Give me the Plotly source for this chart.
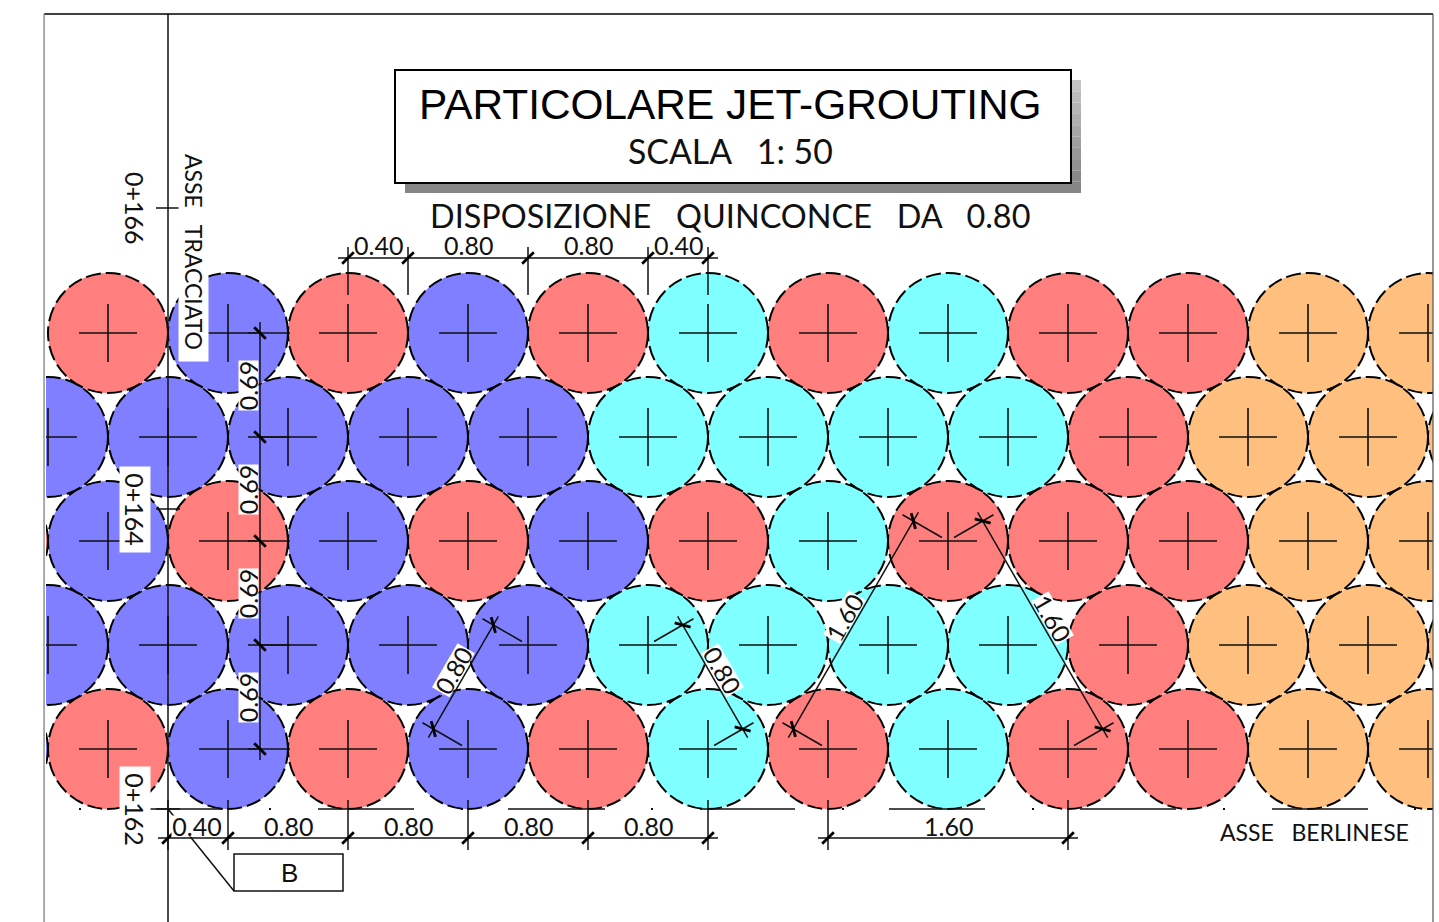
import numpy as np
import plotly.graph_objects as go

# ---- drawing data, metres from the ASSE TRACCIATO / ASSE BERLINESE corner ----
RADIUS = 0.40
ROW_Y = [0.0, 0.6933, 1.3867, 2.08, 2.7733]
ROW_X0 = [-1.2, -0.8, -1.2, -0.8, -0.4]
R, B, C, O = "#FF7F7F", "#7F7FFF", "#7FFFFF", "#FFBF7F"
ROW_COLOURS = [
    [B, R, B, R, B, R, C, R, C, R, R, O, O],
    [B, B, B, B, B, C, C, C, C, R, O, O, O],
    [R, B, R, B, R, B, R, C, R, R, R, O, O],
    [B, B, B, B, B, C, C, C, C, R, O, O, O],
    [R, B, R, B, R, C, R, C, R, R, O, O],
]

AXIS_X = 0.0
TOP_Y = 4.9
BOTTOM_Y = -1.1533
STATION_TICKS = [3.6067, 1.6, -0.4]
BASE_Y = -0.4
BASE_DASHES = [(-0.2733, 0.3667), (1.0, 1.64), (2.2667, 2.9133), (3.5467, 4.18),
               (4.8067, 5.4467), (6.08, 6.72), (7.36, 8.0)]
BASE_DOTS = [-0.5867, 0.68, 1.96, 3.2267, 4.5, 5.7667, 7.04, 8.3133]

BOTTOM_DIM_Y = -0.5933
BOTTOM_DIM_X = [0.0, 0.4, 1.2, 2.0, 2.8, 3.6]
SPAN_DIM_X = [4.4, 6.0]
TOP_DIM_Y = 3.2733
TOP_DIM_X = [1.2, 1.6, 2.4, 3.2, 3.6]
VERT_DIM_X = 0.6133
ALIGNED = [((2.0, 0.0), (2.4, 0.6933)), ((3.2, 0.6933), (3.6, 0.0)),
           ((4.4, 0.0), (5.2, 1.3867)), ((5.2, 1.3867), (6.0, 0.0))]

GAP = "\u00a0\u00a0\u00a0"
LABELS = [
    ("DISPOSIZIONE" + GAP + "QUINCONCE" + GAP + "DA" + GAP + "0.80", 3.7467, 3.56, 0, 32.4),
    ("ASSE" + GAP + "BERLINESE", 7.64, -0.55, 0, 23),
    ("0.40", 1.4, 3.36, 0, 25), ("0.80", 2.0, 3.36, 0, 25),
    ("0.80", 2.8, 3.36, 0, 25), ("0.40", 3.4, 3.36, 0, 25),
    ("0.80", 0.8, -0.5133, 0, 25), ("0.80", 1.6, -0.5133, 0, 25),
    ("0.80", 2.4, -0.5133, 0, 25), ("0.80", 3.2, -0.5133, 0, 25),
    ("1.60", 5.2, -0.5133, 0, 25), ("0+166", -0.22, 3.6067, 90, 25),
]
BOXED_LABELS = [
    ("0.40", 0.1933, -0.5133, 0, 25, 50, 20),
    ("0+164", -0.22, 1.6, 90, 25, 85, 30),
    ("0+162", -0.22, -0.4, 90, 25, 85, 30),
    ("ASSE" + GAP + "TRACCIATO", 0.1733, 3.3133, 90, 23, 218, 29),
    ("0.69", 0.5333, 2.4267, -90, 25, 49, 19),
    ("0.69", 0.5333, 1.7333, -90, 25, 49, 19),
    ("0.69", 0.5333, 1.04, -90, 25, 49, 19),
    ("0.69", 0.5333, 0.3467, -90, 25, 49, 19),
    ("0.80", 1.9, 0.5267, -60, 25, 50, 19),
    ("0.80", 3.7, 0.5267, 60, 25, 50, 19),
    ("1.60", 4.5067, 0.88, -60, 25, 50, 19),
    ("1.60", 5.9, 0.8733, 60, 25, 50, 19),
]
X_RANGE = [-0.8133, 8.4333]
Y_RANGE = [BOTTOM_Y, TOP_Y]
TITLE_BOX = (1.5133, 3.7733, 6.02, 4.5267)
SHADOW_SHIFT = 0.0667
B_BOX = (0.44, -0.9467, 1.1667, -0.70)
B_LEADER = [(0.0, -0.4), (0.44, -0.9467)]

LINE = "#111111"
THIN = "Lato"

# ---- line work built from the values above ----
thin_x, thin_y, thick_x, thick_y = [], [], [], []

def seg(p, q):
    thin_x.extend([p[0], q[0], None])
    thin_y.extend([p[1], q[1], None])

def tick(p, d, size=0.055):
    a = np.pi / 4
    v = (d[0] * np.cos(a) - d[1] * np.sin(a), d[0] * np.sin(a) + d[1] * np.cos(a))
    thick_x.extend([p[0] - v[0] * size, p[0] + v[0] * size, None])
    thick_y.extend([p[1] - v[1] * size, p[1] + v[1] * size, None])

seg((AXIS_X, BOTTOM_Y), (AXIS_X, TOP_Y))
for t in STATION_TICKS:
    seg((-0.08, t), (0.08, t))
for a, b in BASE_DASHES:
    seg((a, BASE_Y), (b, BASE_Y))

def horizontal_chain(xs, y, y0, y1):
    seg((xs[0] - 0.0667, y), (xs[-1] + 0.0667, y))
    for x in xs:
        seg((x, y0), (x, y1))
        tick((x, y), (1, 0))

horizontal_chain(BOTTOM_DIM_X, BOTTOM_DIM_Y, -0.34, -0.6733)
horizontal_chain(SPAN_DIM_X, BOTTOM_DIM_Y, -0.34, -0.6733)
horizontal_chain(TOP_DIM_X, TOP_DIM_Y, 3.0267, 3.3467)

seg((VERT_DIM_X, -0.0733), (VERT_DIM_X, 2.8467))
for y in ROW_Y:
    seg((VERT_DIM_X - 0.08, y), (VERT_DIM_X + 0.2, y))
    tick((VERT_DIM_X, y), (0, 1))

for p1, p2 in ALIGNED:
    p1, p2 = np.array(p1), np.array(p2)
    d = (p2 - p1) / np.linalg.norm(p2 - p1)
    if p2[1] > p1[1]:
        n = np.array([-abs(d[1]), abs(d[0])])
    else:
        n = np.array([abs(d[1]), abs(d[0])])
    f1, f2 = p1 + n * 0.2667, p2 + n * 0.2667
    seg(f1 - d * 0.0667, f2 + d * 0.0667)
    for c, f in ((p1, f1), (p2, f2)):
        seg(c + n * 0.0467, c + n * 0.35)
        tick(f, d)

seg(*B_LEADER)

centres_x, centres_y = [], []
shapes = []
# title box and shadow
x0, y0, x1, y1 = TITLE_BOX
steps = 10
for i in range(steps):
    g = int(196 - (196 - 130) * i / (steps - 1))
    top = y1 - SHADOW_SHIFT - (y1 - y0) * i / steps
    bot = y1 - SHADOW_SHIFT - (y1 - y0) * (i + 1) / steps
    shapes.append(dict(type="rect", xref="x", yref="y", x0=x1, x1=x1 + SHADOW_SHIFT, y0=bot, y1=top,
                       fillcolor=f"rgb({g},{g},{g})", line_width=0, layer="below"))
shapes.append(dict(type="rect", xref="x", yref="y", x0=x0 + SHADOW_SHIFT, x1=x1 + SHADOW_SHIFT,
                   y0=y0 - SHADOW_SHIFT, y1=y0, fillcolor="#868686", line_width=0, layer="below"))
shapes.append(dict(type="rect", xref="x", yref="y", x0=x0, x1=x1, y0=y0, y1=y1, fillcolor="white",
                   line=dict(color="#000000", width=2), layer="below"))
shapes.append(dict(type="rect", xref="x", yref="y", x0=B_BOX[0], x1=B_BOX[2], y0=B_BOX[1], y1=B_BOX[3],
                   fillcolor="white", line=dict(color=LINE, width=1.5), layer="below"))

for y, x0_, cols in zip(ROW_Y, ROW_X0, ROW_COLOURS):
    for i, col in enumerate(cols):
        x = x0_ + 0.8 * i
        centres_x.append(x)
        centres_y.append(y)
        shapes.append(dict(type="circle", xref="x", yref="y", x0=x - RADIUS, x1=x + RADIUS,
                           y0=y - RADIUS, y1=y + RADIUS, fillcolor=col,
                           line=dict(color="#000000", width=2, dash="15px,5px"), layer="below"))

# sheet frame
shapes.append(dict(type="line", xref="paper", yref="paper", x0=-0.0014, x1=1.0, y0=1.0, y1=1.0,
                   line=dict(color="#000000", width=1.5)))
shapes.append(dict(type="line", xref="paper", yref="paper", x0=-0.0014, x1=-0.0014, y0=0, y1=1.0,
                   line=dict(color="#888888", width=1.4)))
shapes.append(dict(type="line", xref="paper", yref="paper", x0=1.0, x1=1.0, y0=0, y1=1.0,
                   line=dict(color="#555555", width=1.2)))

fig = go.Figure()
fig.add_trace(go.Scatter(x=centres_x, y=centres_y, mode="markers", hoverinfo="skip",
                         marker=dict(symbol="cross-thin", size=41.4, line=dict(color=LINE, width=1.6))))
fig.add_trace(go.Scatter(x=thin_x, y=thin_y, mode="lines", hoverinfo="skip",
                         line=dict(color=LINE, width=1.5)))
fig.add_trace(go.Scatter(x=thick_x, y=thick_y, mode="lines", hoverinfo="skip",
                         line=dict(color="#000000", width=2.8)))
fig.add_trace(go.Scatter(x=BASE_DOTS, y=[BASE_Y] * len(BASE_DOTS), mode="markers", hoverinfo="skip",
                         marker=dict(symbol="square", size=2, color=LINE)))

ann = [
    dict(text="PARTICOLARE JET-GROUTING", x=3.7467, y=4.3, textangle=0,
         font=dict(family="Liberation Sans", size=42.4, color="#000000")),
    dict(text="SCALA" + GAP + "1:\u00a050", x=3.7467, y=3.9867, textangle=0,
         font=dict(family=THIN, size=33.8, color="#111111")),
]
for t, x, y, a, s in LABELS:
    ann.append(dict(text=t, x=x, y=y, textangle=a, font=dict(family=THIN, size=s, color="#111111")))
for t, x, y, a, s, w, h in BOXED_LABELS:
    ann.append(dict(text=t, x=x, y=y, textangle=a, width=w, height=h, bgcolor="white", borderpad=0,
                    font=dict(family=THIN, size=s, color="#111111")))
ann.append(dict(text="B", x=0.8067, y=-0.8267, textangle=0,
                font=dict(family="Liberation Sans Narrow, Liberation Sans", size=26, color="#111111")))
for a_ in ann:
    a_.update(xref="x", yref="y", showarrow=False, xanchor="center", yanchor="middle")

fig.update_layout(
    width=1439, height=922, margin=dict(l=46, r=6, t=14, b=0), showlegend=False,
    paper_bgcolor="white", plot_bgcolor="white", shapes=shapes, annotations=ann,
    xaxis=dict(range=X_RANGE, visible=False, fixedrange=True),
    yaxis=dict(range=Y_RANGE, visible=False, fixedrange=True),
)
fig.write_html("out.html", config={"displayModeBar": False},
               post_script="document.body.style.margin='0';document.body.style.overflow='hidden';")
